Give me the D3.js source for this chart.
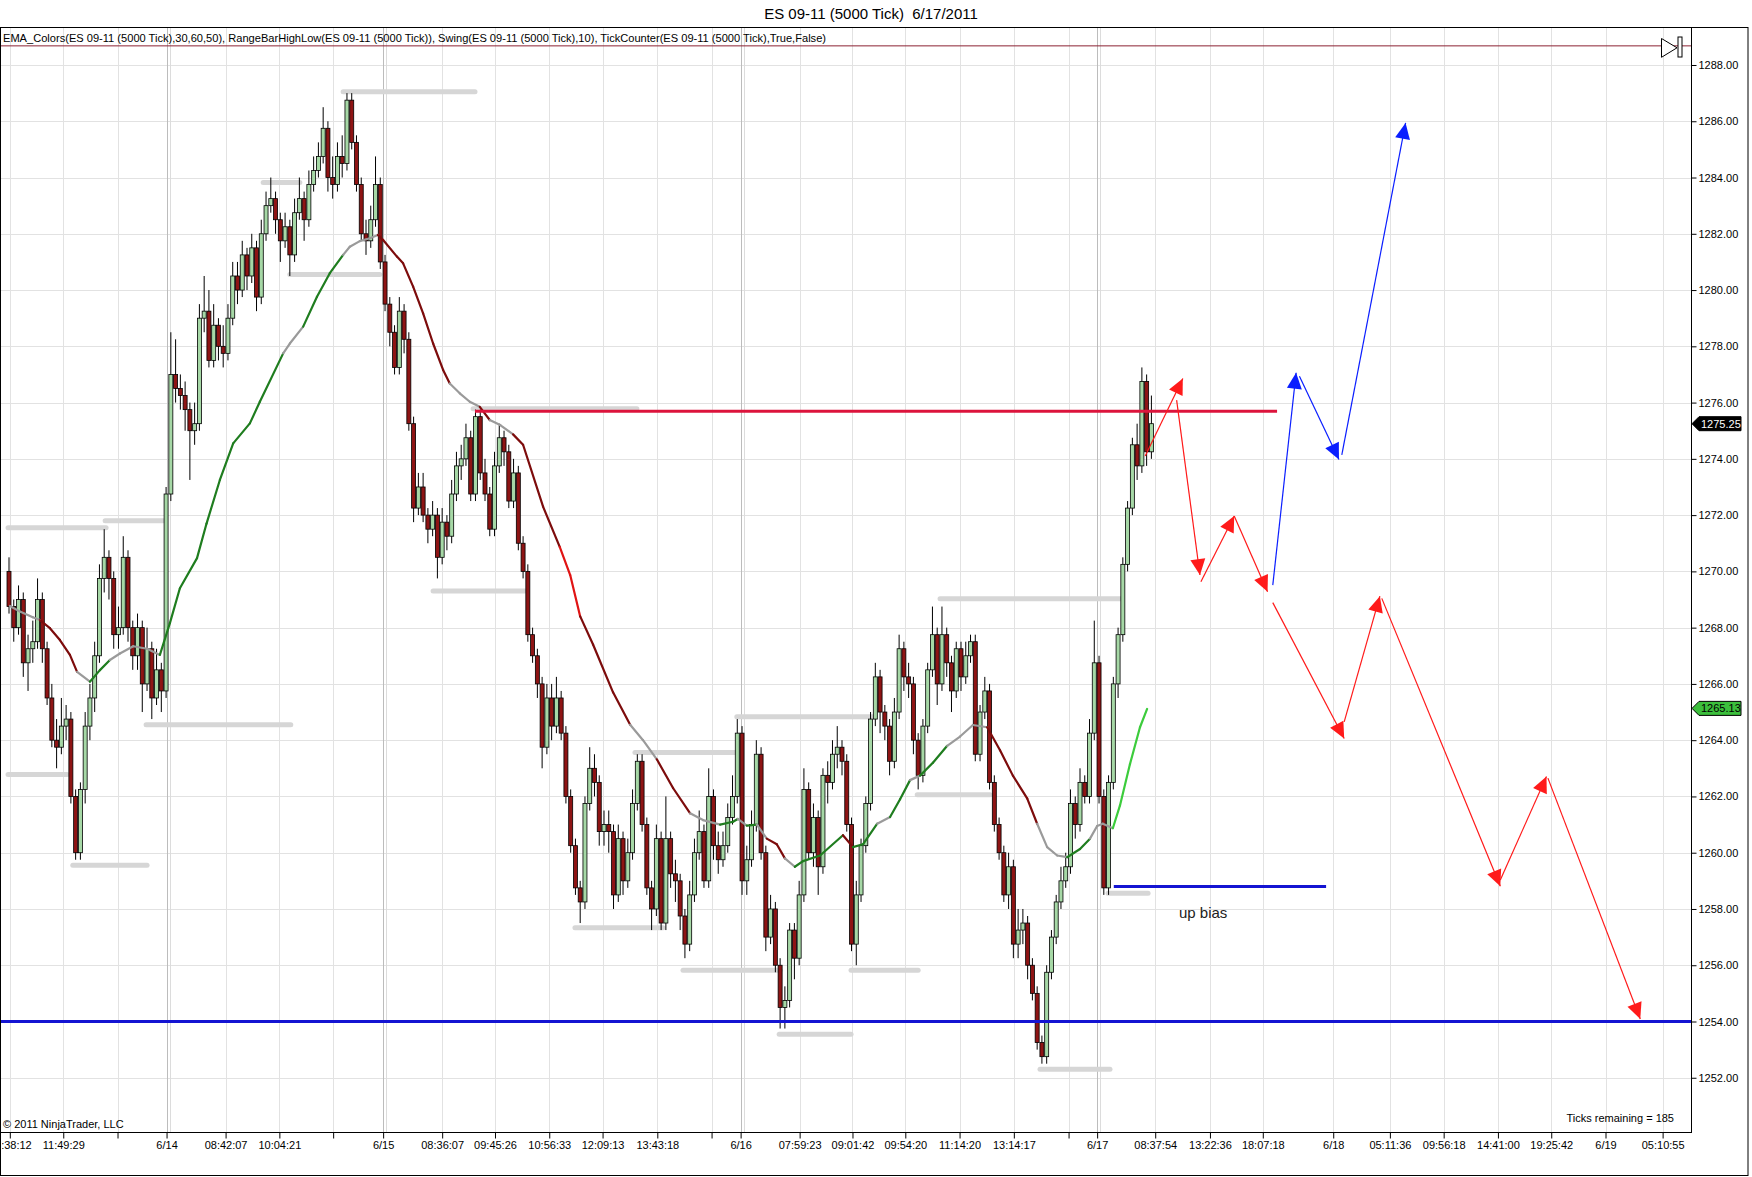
<!DOCTYPE html>
<html>
<head>
<meta charset="utf-8">
<script src="https://cdn.jsdelivr.net/npm/d3@7"></script>
<style>
body { margin: 0; background: #fff; }
svg { display: block; font-family: "Liberation Sans", Arial, sans-serif; }
</style>
</head>
<body>
<svg id="chart" width="1752" height="1177"></svg>
<script>
// ---- data ----
var title = "ES 09-11 (5000 Tick)  6/17/2011";
var indicatorText = "EMA_Colors(ES 09-11 (5000 Tick),30,60,50), RangeBarHighLow(ES 09-11 (5000 Tick)), Swing(ES 09-11 (5000 Tick),10), TickCounter(ES 09-11 (5000 Tick),True,False)";

var firstOpen = 1270.0;
var closes = [1268.75,1268.0,1269.0,1266.75,1267.25,1267.5,1269.0,1267.25,1265.5,1264.0,
1263.75,1264.5,1264.75,1262.0,1260.0,1262.25,1264.5,1265.5,1267.0,1269.75,
1270.5,1269.75,1267.75,1268.0,1270.5,1268.0,1267.0,1268.0,1266.0,1267.25,
1265.5,1266.5,1265.75,1272.75,1277.0,1276.5,1276.25,1275.75,1275.0,1275.25,
1279.0,1279.25,1277.5,1278.75,1278.0,1277.75,1279.0,1280.5,1280.0,1281.25,
1280.5,1281.5,1279.75,1282.0,1283.0,1283.25,1282.5,1281.75,1282.25,1281.25,
1282.75,1283.25,1282.5,1283.75,1284.25,1284.75,1285.75,1284.0,1283.75,1284.75,
1284.5,1286.75,1285.25,1283.75,1282.0,1281.75,1282.5,1283.75,1281.0,1279.5,
1278.5,1277.25,1279.25,1278.25,1275.25,1272.25,1273.0,1272.0,1271.5,1272.0,
1270.5,1271.75,1271.25,1272.75,1273.75,1274.0,1274.75,1272.75,1275.5,1273.5,
1272.75,1271.5,1273.75,1274.75,1274.25,1272.5,1273.5,1271.0,1270.0,1267.75,
1267.0,1266.0,1263.75,1265.5,1264.5,1265.5,1264.25,1262.0,1260.25,1258.75,
1258.25,1261.75,1263.0,1262.5,1260.75,1261.0,1260.75,1258.5,1260.5,1259.0,
1260.0,1261.75,1263.25,1261.0,1258.75,1258.0,1260.5,1257.5,1260.5,1259.25,
1259.0,1257.75,1256.75,1258.5,1260.0,1260.75,1259.0,1262.0,1260.25,1259.75,
1260.25,1261.25,1262.0,1264.25,1259.0,1259.75,1261.0,1263.5,1260.0,1257.0,
1258.0,1256.0,1254.5,1254.75,1257.25,1256.25,1258.5,1262.25,1260.0,1261.25,
1259.5,1262.75,1262.5,1263.5,1263.75,1263.25,1261.0,1256.75,1258.5,1260.25,
1261.75,1264.75,1266.25,1265.0,1264.5,1263.25,1265.0,1267.25,1266.25,1266.0,
1264.0,1262.75,1264.5,1266.5,1267.75,1266.0,1267.75,1266.75,1265.75,1267.25,
1266.25,1267.0,1267.5,1263.5,1265.0,1265.75,1262.5,1261.0,1260.0,1258.5,
1259.5,1256.75,1257.25,1257.5,1256.0,1255.0,1253.25,1252.75,1255.75,1257.0,
1258.25,1259.0,1259.5,1261.75,1261.0,1262.5,1262.0,1264.25,1266.75,1262.0,
1258.75,1262.5,1266.0,1267.75,1270.25,1272.25,1274.5,1273.75,1276.75,1274.25,
1275.25];
var highs = [1270.5,1269.0,1269.5,1269.25,1267.75,1268.25,1269.75,1269.25,1267.5,1266.0,
1264.75,1265.5,1265.25,1265.0,1262.25,1262.5,1265.0,1266.0,1267.5,1270.25,
1271.5,1270.75,1270.0,1268.75,1271.25,1270.75,1268.25,1268.5,1268.25,1268.0,
1267.5,1267.25,1266.75,1273.0,1278.5,1278.25,1277.0,1276.75,1276.0,1276.0,
1279.5,1280.5,1280.0,1279.5,1279.0,1278.75,1279.5,1281.0,1281.0,1281.75,
1281.5,1282.0,1281.75,1282.5,1283.5,1284.0,1283.5,1282.75,1282.75,1282.5,
1283.25,1284.0,1283.5,1284.25,1284.75,1285.25,1286.5,1286.0,1284.75,1285.25,
1285.5,1287.0,1287.0,1285.5,1284.0,1282.5,1283.0,1284.75,1284.0,1281.25,
1279.75,1278.75,1279.75,1279.5,1278.5,1275.5,1273.5,1273.5,1272.25,1272.5,
1272.25,1272.25,1272.0,1273.25,1274.25,1274.5,1275.25,1275.0,1275.75,1275.75,
1274.0,1273.0,1274.25,1275.25,1275.0,1274.5,1274.0,1273.75,1271.25,1270.25,
1268.0,1267.25,1266.25,1266.0,1266.0,1266.25,1265.75,1264.5,1262.25,1260.5,
1259.0,1262.0,1263.75,1263.5,1262.75,1261.5,1261.5,1261.0,1261.0,1260.75,
1260.5,1262.25,1263.5,1263.5,1261.25,1259.0,1261.0,1260.75,1262.0,1260.75,
1259.75,1259.25,1258.0,1259.0,1260.5,1261.5,1261.0,1263.0,1262.25,1260.75,
1260.75,1261.75,1262.75,1264.75,1264.5,1260.25,1261.5,1264.0,1263.75,1260.25,
1258.5,1258.25,1256.25,1255.25,1257.5,1257.5,1259.0,1263.0,1262.5,1261.75,
1261.5,1263.0,1263.25,1264.0,1264.5,1264.0,1263.5,1261.25,1259.0,1260.5,
1262.0,1265.0,1266.75,1266.5,1265.25,1264.75,1265.5,1267.75,1267.5,1266.75,
1266.25,1264.25,1264.75,1266.75,1268.75,1268.0,1268.75,1268.0,1267.0,1267.5,
1267.5,1267.5,1267.75,1267.75,1265.25,1266.25,1266.0,1262.75,1261.25,1260.25,
1260.0,1259.75,1258.0,1258.0,1257.75,1256.25,1255.25,1253.5,1256.0,1257.25,
1258.5,1259.5,1260.0,1262.25,1262.0,1263.0,1262.75,1264.75,1268.25,1267.0,
1262.25,1262.75,1266.25,1268.0,1270.5,1272.5,1274.75,1275.25,1277.25,1277.0,
1276.25];
var lows = [1268.5,1267.5,1267.75,1266.25,1265.75,1266.75,1267.25,1266.75,1265.25,1263.75,
1263.0,1263.5,1264.0,1261.75,1259.75,1259.75,1261.75,1264.0,1265.0,1266.75,
1269.25,1269.0,1267.25,1267.25,1267.75,1267.5,1266.5,1266.5,1265.0,1265.75,
1264.75,1265.25,1265.0,1265.5,1272.5,1276.0,1275.75,1275.0,1273.25,1274.5,
1275.0,1278.5,1277.25,1277.25,1277.5,1277.25,1277.5,1278.75,1279.5,1279.75,
1280.0,1280.25,1279.25,1279.5,1281.75,1282.75,1282.0,1281.0,1281.5,1280.5,
1281.0,1282.5,1281.75,1282.25,1283.5,1284.0,1284.5,1283.5,1283.25,1283.5,
1284.0,1284.25,1285.0,1283.5,1281.75,1281.25,1281.5,1282.25,1280.75,1279.25,
1278.0,1277.0,1277.0,1277.75,1275.0,1271.75,1272.0,1271.75,1271.0,1271.25,
1269.75,1270.25,1270.75,1271.0,1272.5,1273.25,1273.75,1272.5,1272.5,1273.25,
1272.5,1271.25,1271.25,1273.5,1273.75,1272.25,1272.25,1270.75,1269.75,1267.5,
1266.75,1265.5,1263.0,1263.5,1264.0,1264.25,1264.0,1261.75,1260.0,1258.5,
1257.5,1258.0,1261.5,1262.0,1260.25,1260.25,1260.0,1258.0,1258.25,1258.5,
1258.75,1259.75,1261.5,1260.75,1258.5,1257.25,1257.75,1257.25,1257.25,1258.75,
1258.25,1257.25,1256.25,1256.5,1258.25,1259.75,1258.75,1258.75,1259.75,1259.25,
1259.5,1260.0,1261.0,1261.75,1258.5,1258.5,1259.5,1260.75,1259.75,1256.5,
1256.75,1255.75,1253.75,1253.75,1254.5,1255.5,1256.0,1258.25,1259.75,1259.5,
1258.5,1259.25,1261.75,1262.25,1263.0,1262.75,1260.75,1256.5,1256.0,1258.25,
1260.0,1261.5,1264.5,1264.25,1264.0,1262.75,1263.0,1264.75,1265.75,1265.5,
1263.5,1262.25,1262.5,1264.25,1266.25,1265.25,1265.75,1266.25,1265.0,1265.5,
1265.75,1266.0,1266.75,1263.25,1263.25,1264.75,1262.25,1260.75,1259.75,1258.25,
1258.0,1256.25,1256.25,1256.75,1255.5,1254.75,1253.0,1252.5,1252.5,1255.5,
1256.75,1258.0,1258.75,1259.25,1260.5,1260.75,1261.75,1261.75,1264.0,1261.75,
1258.5,1258.5,1262.25,1265.5,1267.5,1270.0,1272.0,1273.25,1273.5,1273.75,
1274.0];

// EMA_Colors line, points as [bar index, price] with a tone per segment
var emaIdx = [0.2,2.3,5.0,6.5,8.6,10.7,12.8,14.3,17.0,19.1,21.2,23.3,26.1,29.0,31.7,33.8,35.9,39.5,41.5,44.3,
47.1,50.6,52.7,57.6,59.0,61.8,64.7,67.4,70.2,71.6,73.7,75.8,77.5,78.6,81.5,82.8,84.9,87.0,89.1,91.2,
92.6,94.7,96.8,98.9,101.0,103.2,105.9,108.0,112.2,115.7,117.9,120.0,122.7,126.9,130.5,133.2,136.1,139.5,143.1,145.8,
149.4,152.1,153.1,155.0,157.1,159.2,161.3,163.0,165.1,166.8,170.4,175.2,177.3,179.4,182.4,185.1,187.2,189.3,191.4,194.1,
197.1,199.8,202.5,205.5,208.2,210.9,213.9,216.0,218.1,220.2,222.3,225.0,227.1,228.6,229.8,231.9,233.4,235.5,237.6,239.1];
var emaVal = [1268.77,1268.57,1268.37,1268.27,1267.98,1267.56,1267.03,1266.43,1266.08,1266.49,1266.85,1267.08,1267.34,1267.25,1267.03,1268.16,1269.4,1270.47,1271.7,1273.25,
1274.55,1275.26,1276.03,1277.75,1278.1,1278.7,1279.76,1280.6,1281.25,1281.54,1281.74,1281.84,1281.96,1281.78,1281.19,1280.95,1280.12,1279.17,1278.1,1277.16,
1276.68,1276.33,1276.03,1275.85,1275.38,1275.2,1274.87,1274.5,1272.3,1270.87,1269.87,1268.4,1267.4,1265.7,1264.55,1264.0,1263.32,1262.3,1261.4,1261.16,
1261.0,1261.1,1261.2,1260.96,1261.0,1260.5,1260.3,1259.8,1259.5,1259.7,1259.9,1260.62,1260.2,1260.3,1261.03,1261.27,1261.9,1262.58,1262.74,1263.2,
1263.8,1264.13,1264.54,1264.46,1263.64,1262.74,1261.93,1261.03,1260.2,1259.9,1259.84,1260.13,1260.5,1260.95,1261.03,1260.87,1261.68,1263.15,1264.46,1265.11];
var emaTone = ["n","n","n","r","r","r","r","n","g","g",
"n","n","n","n","g","g","g","g","g","g",
"g","g","g","n","n","g","g","g","n","n",
"n","n","r","r","r","r","r","r","r","r",
"n","n","n","r","n","n","r","r","r","R",
"R","r","r","r","n","n","r","r","n","n",
"g","g","n","g","n","r","r","n","g","g",
"g","r","g","g","n","g","g","n","g","g",
"n","n","n","r","r","r","r","n","n","n",
"g","g","n","n","n","G","G","G","G","G"];
var emaLabel = 1265.13;

// swing high / low bars: start index, end index, price
var swingStart = [-0.2,20.2,-0.2,13.4,28.8,53.4,59.0,70.2,89.1,97.5,118.9,131.5,141.6,152.9,161.8,176.9,190.8,195.6,216.6,230.9];
var swingEnd = [20.4,32.4,12.2,29.0,59.2,61.1,77.9,97.9,108.4,131.9,137.4,152.5,162.0,181.5,176.9,191.0,206.1,233.8,231.3,239.3];
var swingPrice = [1271.55,1271.8,1262.78,1259.55,1264.55,1283.82,1280.55,1287.05,1269.3,1275.78,1257.33,1263.56,1255.82,1264.83,1253.55,1255.82,1262.06,1269.03,1252.3,1258.56];

// drawn levels: [from index, to index, price]
var resistanceLevel = [97.9, 266.4, 1275.69];
var supportLevel = [-5, 360, 1254.0];
var upBiasLevel = [232.1, 276.7, 1258.8];
var topLevel = [-5, 360, 1288.68];
var upBiasNote = ["up bias", 245.8, 1257.68];

// drawn arrows: [from index, from price, to index, to price]
var redArrows = [[238.7,1274.10,246.6,1276.86],[245.3,1276.09,250.2,1269.87],[250.4,1269.63,257.4,1271.97],
  [257.4,1271.97,264.4,1269.28],[265.5,1268.89,280.5,1264.06],[280.5,1264.65,288.0,1269.12],
  [288.4,1269.04,313.3,1258.81],[313.3,1259.03,323.0,1262.71],[323.3,1262.65,342.7,1254.09]];
var blueArrows = [[265.5,1269.51,270.4,1277.06],[271.1,1276.94,279.4,1273.98],[280.0,1274.14,293.4,1285.94]];

// axes
var priceTicks = [1252,1254,1256,1258,1260,1262,1264,1266,1268,1270,1272,1274,1276,1278,1280,1282,1284,1286,1288];
var xTickIdx = [0.17,11.4,22.8,33.1,45.5,56.8,68.1,78.6,91.0,102.1,113.5,124.7,136.2,147.6,153.7,166.1,
  177.2,188.3,199.7,211.1,222.6,228.6,240.8,252.3,263.4,278.2,290.1,301.4,312.8,324.0,335.4,347.4];
var xTickLabels = ["08:38:12","11:49:29","","6/14","08:42:07","10:04:21","","6/15","08:36:07","09:45:26","10:56:33","12:09:13","13:43:18","","6/16","07:59:23",
  "09:01:42","09:54:20","11:14:20","13:14:17","","6/17","08:37:54","13:22:36","18:07:18","6/18","05:11:36","09:56:18","14:41:00","19:25:42","6/19","05:10:55"];
var sessionBreaks = ["6/14","6/15","6/16","6/17"];

// ---- drawing ----
var plotL = 0.5, plotR = 1691, plotT = 27.5, plotB = 1132;
var x = d3.scaleLinear().domain([0, 240]).range([9, 1151.4]);
var y = d3.scaleLinear().domain([1254, 1288]).range([1021.5, 65]);

var svg = d3.select("#chart");
var defs = svg.append("defs");
defs.append("clipPath").attr("id", "plotclip").append("rect")
  .attr("x", plotL).attr("y", plotT).attr("width", plotR - plotL).attr("height", plotB - plotT);
defs.append("clipPath").attr("id", "axclip").append("rect")
  .attr("x", 1.5).attr("y", plotB).attr("width", 1745).attr("height", 40);

svg.append("text")
  .attr("x", 871).attr("y", 19)
  .attr("text-anchor", "middle")
  .attr("font-size", "15px")
  .style("white-space", "pre")
  .text(title);

var plot = svg.append("g").attr("clip-path", "url(#plotclip)");

// grid
plot.selectAll(".hgrid")
  .data(priceTicks)
  .enter()
  .append("line")
  .attr("x1", plotL).attr("x2", plotR)
  .attr("y1", function(d) { return Math.round(y(d)) + 0.5; })
  .attr("y2", function(d) { return Math.round(y(d)) + 0.5; })
  .attr("stroke", "#e2e2e2");

plot.selectAll(".vgrid")
  .data(xTickIdx)
  .enter()
  .append("line")
  .attr("x1", function(d) { return Math.round(x(d)) + 0.5; })
  .attr("x2", function(d) { return Math.round(x(d)) + 0.5; })
  .attr("y1", plotT).attr("y2", plotB)
  .attr("stroke", function(d, i) { return sessionBreaks.indexOf(xTickLabels[i]) >= 0 ? "#bcbcbc" : "#e2e2e2"; });

// second, lighter line beside each session break
plot.selectAll(".vbreak")
  .data(xTickIdx.filter(function(d, i) { return sessionBreaks.indexOf(xTickLabels[i]) >= 0; }))
  .enter()
  .append("line")
  .attr("x1", function(d) { return Math.round(x(d)) + 3.5; })
  .attr("x2", function(d) { return Math.round(x(d)) + 3.5; })
  .attr("y1", plotT).attr("y2", plotB)
  .attr("stroke", "#dcdcdc");

// swing bars
plot.selectAll(".swing")
  .data(swingPrice)
  .enter()
  .append("line")
  .attr("x1", function(d, i) { return x(swingStart[i]); })
  .attr("x2", function(d, i) { return x(swingEnd[i]); })
  .attr("y1", function(d) { return y(d); })
  .attr("y2", function(d) { return y(d); })
  .attr("stroke", "#d6d6d6")
  .attr("stroke-width", 5)
  .attr("stroke-linecap", "round");

// candles
var bars = closes.map(function(c, i) {
  return { i: i, o: i === 0 ? firstOpen : closes[i - 1], c: c, h: highs[i], l: lows[i] };
});

plot.selectAll(".wick")
  .data(bars)
  .enter()
  .append("line")
  .attr("x1", function(d) { return x(d.i); })
  .attr("x2", function(d) { return x(d.i); })
  .attr("y1", function(d) { return y(d.h); })
  .attr("y2", function(d) { return y(d.l); })
  .attr("stroke", "#000")
  .attr("stroke-width", 1);

plot.selectAll(".body")
  .data(bars)
  .enter()
  .append("rect")
  .attr("x", function(d) { return x(d.i) - 2; })
  .attr("width", 4)
  .attr("y", function(d) { return y(Math.max(d.o, d.c)); })
  .attr("height", function(d) { return Math.max(1, Math.abs(y(d.o) - y(d.c))); })
  .attr("fill", function(d) { return d.c >= d.o ? "#a6d8a6" : "#8e1414"; })
  .attr("stroke", "#000")
  .attr("stroke-width", 0.8);

// EMA colored line
var toneColor = { n: "#9a9a9a", g: "#1f7d1f", G: "#3ccc3c", r: "#7d0c0c", R: "#e01414" };
var emaSeg = emaIdx.slice(0, -1).map(function(d, k) { return k; });
plot.selectAll(".ema")
  .data(emaSeg)
  .enter()
  .append("line")
  .attr("x1", function(k) { return x(emaIdx[k]); })
  .attr("y1", function(k) { return y(emaVal[k]); })
  .attr("x2", function(k) { return x(emaIdx[k + 1]); })
  .attr("y2", function(k) { return y(emaVal[k + 1]); })
  .attr("stroke", function(k) { return toneColor[emaTone[k]] || "#9a9a9a"; })
  .attr("stroke-width", 2.2)
  .attr("stroke-linecap", "round");

// drawn levels
function level(arr, color, width) {
  plot.append("line")
    .attr("x1", Math.max(plotL, x(arr[0]))).attr("x2", Math.min(plotR, x(arr[1])))
    .attr("y1", y(arr[2])).attr("y2", y(arr[2]))
    .attr("stroke", color).attr("stroke-width", width);
}
level(topLevel, "#8b2232", 1);
level(resistanceLevel, "#dc143c", 3);
level(supportLevel, "#1414d2", 3);
level(upBiasLevel, "#1414d2", 3);

plot.append("text")
  .attr("x", x(upBiasNote[1])).attr("y", y(upBiasNote[2]))
  .attr("font-size", "15px").attr("fill", "#222")
  .text(upBiasNote[0]);

// arrows
function arrowHead(x1, y1, x2, y2) {
  var a = Math.atan2(y2 - y1, x2 - x1), len = 16, half = 7.5;
  var bx = x2 - len * Math.cos(a), by = y2 - len * Math.sin(a);
  var px = -Math.sin(a) * half, py = Math.cos(a) * half;
  return "M" + x2 + "," + y2 + "L" + (bx + px) + "," + (by + py) + "L" + (bx - px) + "," + (by - py) + "Z";
}
function drawArrows(list, color) {
  var g = plot.append("g");
  g.selectAll("line")
    .data(list)
    .enter()
    .append("line")
    .attr("x1", function(d) { return x(d[0]); })
    .attr("y1", function(d) { return y(d[1]); })
    .attr("x2", function(d) { return x(d[2]); })
    .attr("y2", function(d) { return y(d[3]); })
    .attr("stroke", color)
    .attr("stroke-width", 1.2);
  g.selectAll("path")
    .data(list)
    .enter()
    .append("path")
    .attr("d", function(d) { return arrowHead(x(d[0]), y(d[1]), x(d[2]), y(d[3])); })
    .attr("fill", color);
}
drawArrows(redArrows, "#ff1a1a");
drawArrows(blueArrows, "#0a1eff");

// texts inside plot
svg.append("text")
  .attr("x", 3).attr("y", 42)
  .attr("font-size", "11px")
  .attr("textLength", 823).attr("lengthAdjust", "spacingAndGlyphs")
  .text(indicatorText);

svg.append("text")
  .attr("x", 3).attr("y", 1128)
  .attr("font-size", "11px")
  .text("\u00a9 2011 NinjaTrader, LLC");

svg.append("text")
  .attr("x", 1674).attr("y", 1122)
  .attr("text-anchor", "end")
  .attr("font-size", "11px")
  .text("Ticks remaining = 185");

// end-of-data icon
svg.append("path")
  .attr("d", "M1661.5,38.5L1677,47.8L1661.5,57.3Z")
  .attr("fill", "#fff").attr("stroke", "#000");
svg.append("rect")
  .attr("x", 1678).attr("y", 37).attr("width", 4).attr("height", 20)
  .attr("fill", "#fff").attr("stroke", "#000");

// frame and axis lines
svg.append("rect")
  .attr("x", 0.5).attr("y", 27.5).attr("width", 1747.5).attr("height", 1148)
  .attr("fill", "none").attr("stroke", "#000");
svg.append("line")
  .attr("x1", plotR + 0.5).attr("x2", plotR + 0.5).attr("y1", plotT).attr("y2", plotB)
  .attr("stroke", "#000");
svg.append("line")
  .attr("x1", 0).attr("x2", plotR + 1).attr("y1", plotB + 0.5).attr("y2", plotB + 0.5)
  .attr("stroke", "#000");

// right price axis
var yAxis = d3.axisRight(y)
  .tickValues(priceTicks)
  .tickFormat(d3.format(".2f"))
  .tickSize(5)
  .tickPadding(2);
var ya = svg.append("g")
  .attr("transform", "translate(" + (plotR + 0.5) + ",0)")
  .call(yAxis);
ya.select(".domain").remove();
ya.attr("font-family", null).attr("font-size", null);
ya.selectAll("text").attr("font-size", "11px").attr("fill", "#000");

// bottom time axis (first label is cut by the frame, as in the original)
var xAxis = d3.axisBottom(x)
  .tickValues(xTickIdx)
  .tickFormat(function(d, i) { return xTickLabels[i]; })
  .tickSize(6)
  .tickPadding(3);
var xa = svg.append("g")
  .attr("transform", "translate(0," + (plotB + 0.5) + ")")
  .call(xAxis);
xa.select(".domain").remove();
xa.attr("font-family", null).attr("font-size", null);
xa.selectAll("text").attr("font-size", "11px").attr("fill", "#000");
svg.append("g").attr("clip-path", "url(#axclip)").node().appendChild(xa.node());

// price flags
function flag(price, fill, textColor) {
  var yy = y(price);
  svg.append("path")
    .attr("d", "M" + (plotR + 1) + "," + yy + "L" + (plotR + 8) + "," + (yy - 7) + "L1741," + (yy - 7) + "L1741," + (yy + 7) + "L" + (plotR + 8) + "," + (yy + 7) + "Z")
    .attr("fill", fill).attr("stroke", "#000");
  svg.append("text")
    .attr("x", plotR + 10).attr("y", yy + 4)
    .attr("font-size", "11px").attr("fill", textColor)
    .text(d3.format(".2f")(price));
}
flag(closes[closes.length - 1], "#000", "#fff");
flag(emaLabel, "#3cbf3c", "#000");
</script>
</body>
</html>
